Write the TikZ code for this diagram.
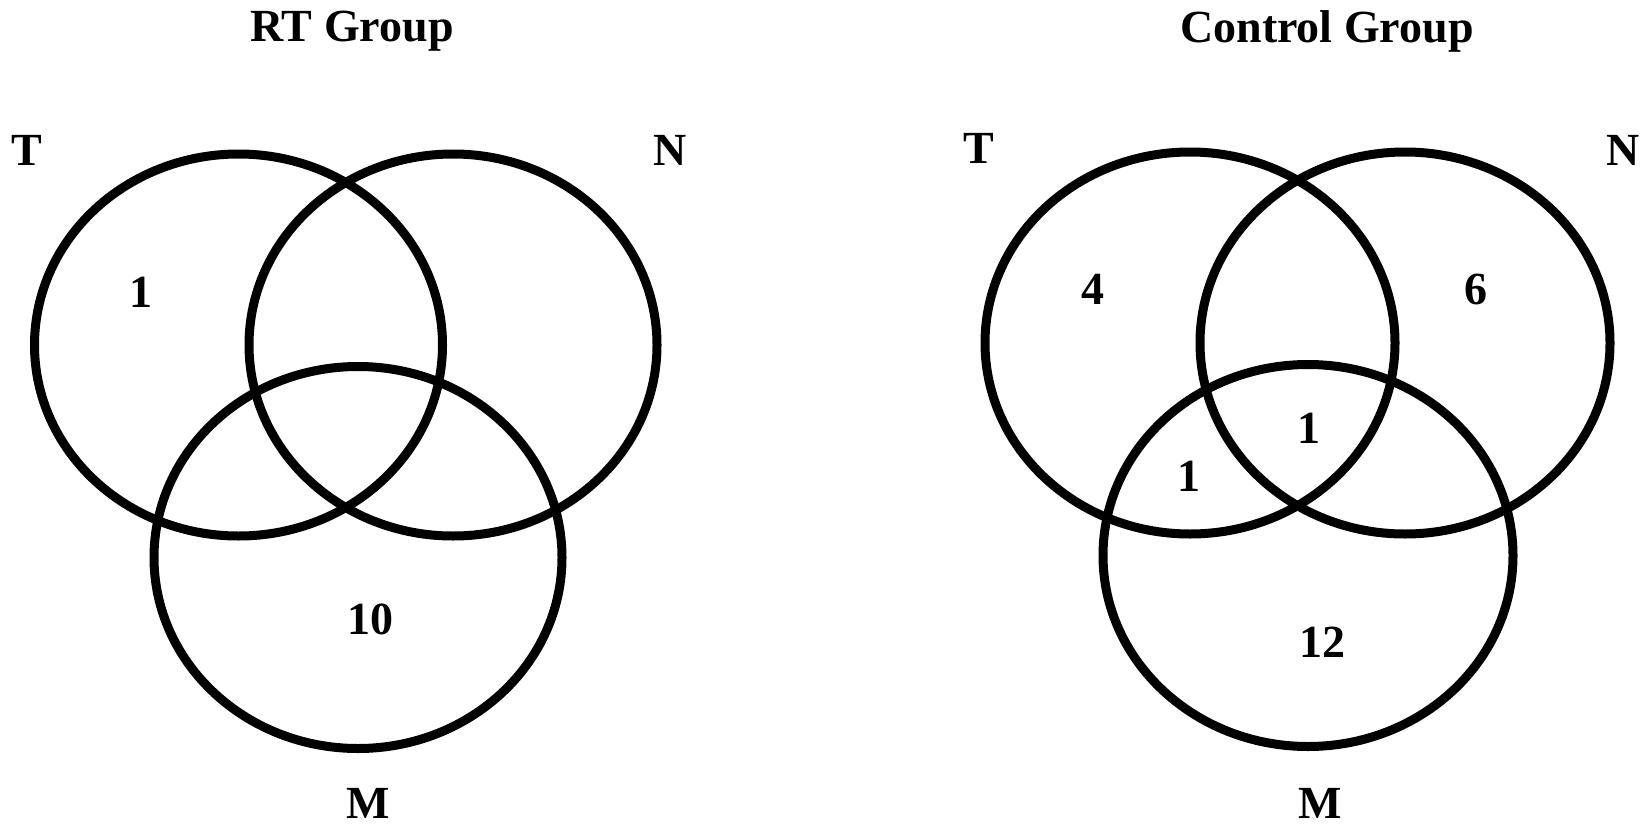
\documentclass[tikz,border=0pt]{standalone}
\usepackage{fontspec}
\setmainfont{Liberation Serif}
\begin{document}
\begin{tikzpicture}[x=1pt,y=-1pt,
  venn/.style={draw=black,line width=9pt},
  lbl/.style={font=\fontsize{46}{46}\selectfont\bfseries,inner sep=0pt,anchor=center}]
\useasboundingbox (0,0) rectangle (1640,827);
% RT Group
\node[lbl] (rttitle) at (352,31) {RT Group};
\draw[venn] (238.5,345) ellipse [x radius=204, y radius=191];
\draw[venn] (453,345) ellipse [x radius=204, y radius=191];
\draw[venn] (358,557.5) ellipse [x radius=204, y radius=191];
\node[lbl] (rtT) at (27,150) {T};
\node[lbl] (rtN) at (670,150) {N};
\node[lbl] (rtM) at (368,803) {M};
\node[lbl] (rt1) at (141,292) {1};
\node[lbl] (rt10) at (370,619) {10};
% Control Group
\node[lbl] (cttitle) at (1327,31) {Control Group};
\draw[venn] (1190,343) ellipse [x radius=205, y radius=191];
\draw[venn] (1405,343) ellipse [x radius=205, y radius=191];
\draw[venn] (1308,555.5) ellipse [x radius=205, y radius=191];
\node[lbl] (ctT) at (979,148) {T};
\node[lbl] (ctN) at (1623,150) {N};
\node[lbl] (ctM) at (1320,803) {M};
\node[lbl] (ct4) at (1093,289) {4};
\node[lbl] (ct6) at (1476,289) {6};
\node[lbl] (ct1a) at (1309,428) {1};
\node[lbl] (ct1b) at (1189,476) {1};
\node[lbl] (ct12) at (1322,642) {12};
\end{tikzpicture}
\end{document}
